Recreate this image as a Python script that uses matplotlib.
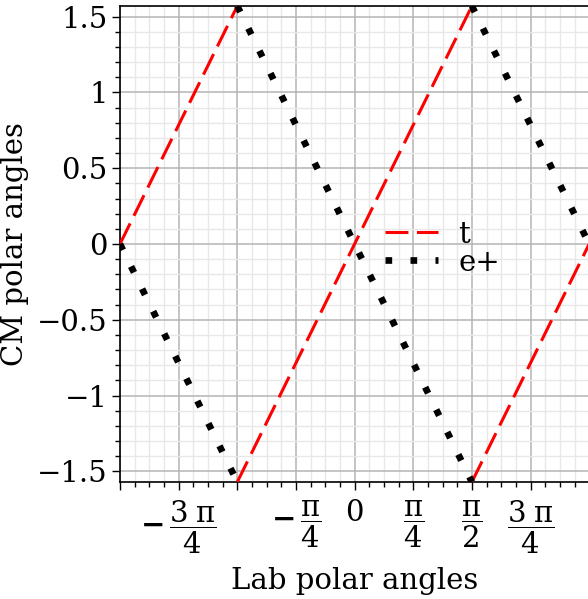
import numpy as np
import matplotlib
matplotlib.use("Agg")
import matplotlib.pyplot as plt
from matplotlib.ticker import MultipleLocator

plt.rcParams['font.family'] = 'DejaVu Serif'
plt.rcParams['mathtext.fontset'] = 'dejavuserif'

PI = np.pi
# lab angle -> CM angle, NaN breaks the wrap-around jumps
lab_t = [-PI, -PI / 2, np.nan, -PI / 2, PI / 2, np.nan, PI / 2, PI]
cm_t = [0.0, PI / 2, np.nan, -PI / 2, PI / 2, np.nan, -PI / 2, 0.0]
lab_e = [-PI, -PI / 2, np.nan, -PI / 2, PI / 2, np.nan, PI / 2, PI]
cm_e = [0.0, -PI / 2, np.nan, PI / 2, -PI / 2, np.nan, PI / 2, 0.0]

MINUS = '\\mathbf{\u2212}\\,'
xtick_vals = [-PI, -3 * PI / 4, -PI / 2, -PI / 4, 0, PI / 4, PI / 2, 3 * PI / 4, PI]
xtick_labels = ['', '$' + MINUS + r'\dfrac{3\;\mathrm{\pi}}{4}$', '',
                '$' + MINUS + r'\dfrac{\mathrm{\pi}}{4}$', '0',
                r'$\dfrac{\mathrm{\pi}}{4}$', r'$\dfrac{\mathrm{\pi}}{2}$',
                r'$\dfrac{3\;\mathrm{\pi}}{4}$', '']
ytick_vals = [-1.5, -1, -0.5, 0, 0.5, 1, 1.5]
ytick_labels = ['\u22121.5', '\u22121', '\u22120.5', '0', '0.5', '1', '1.5']

FS = 21

fig = plt.figure(figsize=(5.88, 5.99), dpi=100)
ax = fig.add_axes([120 / 588, 1 - 482 / 599, 1 - 120 / 588 + 0.002, (482 - 6) / 599])

ax.plot(lab_t, cm_t, color='red', lw=2.2, dashes=(7.5, 2.8), label='t', zorder=3)
ax.plot(lab_e, cm_e, color='black', lw=4.8, dashes=(1.0, 2.75), label='e+', zorder=3)

ax.set_xlim(-PI, PI)
ax.set_ylim(-PI / 2, PI / 2)
ax.set_xticks(xtick_vals)
ax.set_xticklabels(xtick_labels)
ax.xaxis.set_minor_locator(MultipleLocator(PI / 16))
ax.set_yticks(ytick_vals)
ax.set_yticklabels(ytick_labels)
ax.yaxis.set_minor_locator(MultipleLocator(0.1))

ax.grid(which='major', color='#b4b4b4', lw=1.1, zorder=0)
ax.grid(which='minor', color='#e8e8e8', lw=1.0, zorder=0)
ax.set_axisbelow(True)

ax.tick_params(which='major', direction='out', length=6, width=1, labelsize=FS, pad=3)
ax.tick_params(axis='x', which='major', pad=6)
ax.tick_params(which='minor', direction='out', length=3.5, width=1)
for s in ax.spines.values():
    s.set_linewidth(1.2)

ax.set_xlabel('Lab polar angles', fontsize=FS, labelpad=8)
ax.set_ylabel('CM polar angles', fontsize=FS, labelpad=6)

leg = ax.legend(loc='upper left', bbox_to_anchor=(0.534, 0.58), frameon=False,
                fontsize=FS, handlelength=1.8, handletextpad=0.7,
                labelspacing=0.0, borderpad=0)

fig.savefig('out.png', dpi=100)
